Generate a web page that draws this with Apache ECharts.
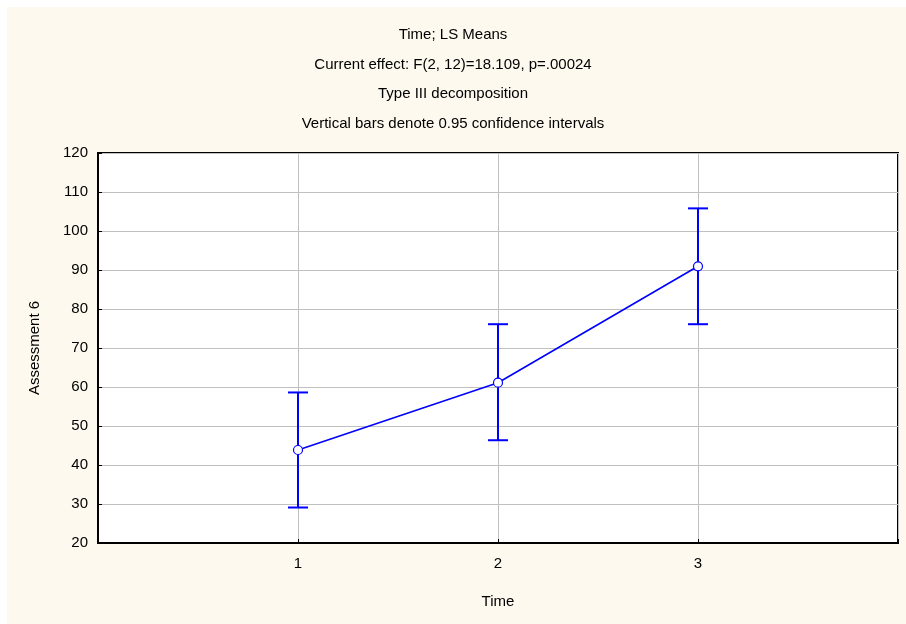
<!DOCTYPE html>
<html><head><meta charset="utf-8">
<script src="https://cdn.jsdelivr.net/npm/echarts@6/dist/echarts.min.js"></script>
<style>html,body{margin:0;padding:0;background:#fff}#c{width:906px;height:624px}</style>
</head><body><div id="c"></div>
<script>
var timePoints = [1, 2, 3];
var lsMeans = [43.85, 61.1, 90.95];
var ciLower = [29.1, 46.35, 76.1];
var ciUpper = [58.6, 76.1, 105.8];
var titleLines = ['Time; LS Means', 'Current effect: F(2, 12)=18.109, p=.00024', 'Type III decomposition', 'Vertical bars denote 0.95 confidence intervals'];

var chart = echarts.init(document.getElementById('c'));
var F = 'Liberation Sans, Arial, sans-serif';
chart.setOption({
  animation: false,
  backgroundColor: '#ffffff',
  graphic: [{type:'rect', z:-10, shape:{x:7,y:7,width:899,height:617}, style:{fill:'#FEF9EE'}}],
  title: {text: titleLines.join('\n'), left: 'center', top: 15,
    textStyle: {fontFamily: F, fontSize: 15, fontWeight: 'normal', color: '#000', lineHeight: 29.6}},
  grid: {left: 98, right: 8, top: 153, bottom: 81, show: true, backgroundColor: '#fff', borderColor: '#000', borderWidth: 2, containLabel: false},
  xAxis: {type: 'value', min: 0, max: 4, interval: 1, name: 'Time', nameLocation: 'middle', nameGap: 51,
    nameTextStyle: {fontFamily: F, fontSize: 15, color: '#000'},
    axisLine: {show: true, onZero: false, lineStyle: {color: '#000', width: 2}},
    axisTick: {show: true, inside: true, length: 4, lineStyle: {color: '#000'}},
    axisLabel: {fontFamily: F, fontSize: 15, color: '#000', margin: 13,
      formatter: function(v){ return timePoints.indexOf(v) >= 0 ? String(v) : ''; }},
    splitLine: {show: true, lineStyle: {color: '#c0c0c0', width: 1}}},
  yAxis: {type: 'value', min: 20, max: 120, interval: 10, name: 'Assessment 6', nameLocation: 'middle', nameGap: 56,
    nameTextStyle: {fontFamily: F, fontSize: 15, color: '#000'},
    axisLine: {show: true, lineStyle: {color: '#000', width: 2}},
    axisTick: {show: true, inside: true, length: 4, lineStyle: {color: '#000'}},
    axisLabel: {fontFamily: F, fontSize: 15, color: '#000', margin: 10},
    splitLine: {show: true, lineStyle: {color: '#c0c0c0', width: 1}}},
  series: [
    {type: 'custom', z: 3,
     data: timePoints.map(function(t, i){ return [t, ciLower[i], ciUpper[i]]; }),
     renderItem: function(params, api){
       var lo = api.coord([api.value(0), api.value(1)]);
       var hi = api.coord([api.value(0), api.value(2)]);
       var w = 10;
       var st = {stroke: '#0000ff', lineWidth: 2};
       return {type: 'group', children: [
         {type: 'line', shape: {x1: lo[0], y1: lo[1], x2: hi[0], y2: hi[1]}, style: st},
         {type: 'line', shape: {x1: lo[0]-w, y1: lo[1], x2: lo[0]+w, y2: lo[1]}, style: st},
         {type: 'line', shape: {x1: hi[0]-w, y1: hi[1], x2: hi[0]+w, y2: hi[1]}, style: st}
       ]};
     }},
    {type: 'line', z: 4, data: timePoints.map(function(t, i){ return [t, lsMeans[i]]; }),
     symbol: 'circle', symbolSize: 9,
     itemStyle: {color: '#fff', borderColor: '#0000ff', borderWidth: 1.2},
     lineStyle: {color: '#0000ff', width: 1.6}}
  ]
});
</script></body></html>
